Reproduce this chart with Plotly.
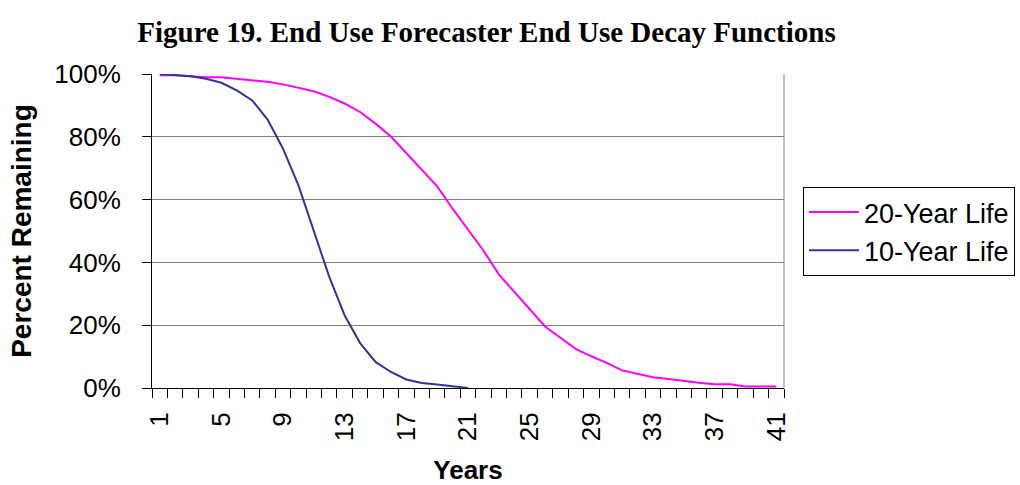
import plotly.graph_objects as go

years = list(range(1, 42))
life20 = [99.6, 99.6, 99.3, 99.0, 99.0, 98.5, 98.0, 97.5, 96.7, 95.6,
          94.5, 92.7, 90.6, 87.9, 84.2, 80.1, 74.8, 69.5, 64.2, 57.1,
          50.3, 43.8, 36.2, 30.7, 25.1, 19.6, 16.0, 12.4, 10.1, 8.0,
          5.6, 4.5, 3.4, 2.9, 2.2, 1.7, 1.2, 1.2, 0.5, 0.5, 0.5]
years10 = list(range(1, 22))
life10 = [100.0, 99.7, 99.3, 98.5, 97.2, 94.8, 91.6, 85.5, 76.2, 64.5,
          50.2, 35.4, 23.1, 14.3, 8.3, 5.1, 2.7, 1.6, 1.1, 0.5, 0.0]
xtick_vals = list(range(1, 42, 4))
ytick_vals = [0, 0.2, 0.4, 0.6, 0.8, 1.0]

fig = go.Figure()
fig.add_trace(go.Scatter(x=years, y=[v / 100 for v in life20], mode="lines",
                         name="20-Year Life", legendgroup="a",
                         line=dict(color="#FF00FF", width=2)))
fig.add_trace(go.Scatter(x=years10, y=[v / 100 for v in life10], mode="lines",
                         name="10-Year Life", legendgroup="b",
                         line=dict(color="#333399", width=2)))

sans = "Liberation Sans, Arial, sans-serif"
fig.update_layout(
    width=1020, height=485,
    margin=dict(l=152, r=236, t=74, b=97, autoexpand=False),
    paper_bgcolor="white", plot_bgcolor="white",
    title=dict(text="<b>Figure 19. End Use Forecaster End Use Decay Functions</b>",
               font=dict(family="Liberation Serif, Times New Roman, serif", size=29, color="black"),
               x=0.477, xanchor="center", y=0.935, yanchor="middle"),
    legend=dict(xref="container", yref="container", x=803 / 1020, y=1 - 187 / 485,
                xanchor="left", yanchor="top",
                bordercolor="black", borderwidth=1, bgcolor="white",
                font=dict(family=sans, size=27, color="black"),
                tracegroupgap=0, itemwidth=50),
    showlegend=True,
)
fig.update_xaxes(
    range=[0.5, 41.5], tickmode="array", tickvals=xtick_vals,
    ticks="", tickangle=-90, showgrid=False, zeroline=False,
    showline=True, linecolor="black", linewidth=1, automargin=False,
    ticklabelstandoff=13,
    tickfont=dict(family=sans, size=26, color="black"),
    minor=dict(tickmode="array", tickvals=[k + 0.5 for k in range(0, 42)],
               ticks="outside", ticklen=9, tickcolor="black", showgrid=False),
    title=dict(text="<b>Years</b>", font=dict(family=sans, size=26, color="black"), standoff=24),
)
fig.update_yaxes(
    range=[0, 1], tickmode="array", tickvals=ytick_vals, tickformat=".0%",
    ticks="outside", ticklen=9, tickcolor="black",
    showgrid=True, gridcolor="#808080", gridwidth=1, zeroline=False,
    showline=True, linecolor="black", linewidth=1, automargin=False,
    ticklabelstandoff=16,
    tickfont=dict(family=sans, size=26, color="black"),
    title=dict(text="<b>Percent Remaining</b>", font=dict(family=sans, size=28, color="black"), standoff=14),
)
fig.add_shape(type="line", xref="paper", yref="paper", x0=1, x1=1, y0=0, y1=1,
              line=dict(color="#808080", width=1))

fig.write_html("out.html")
